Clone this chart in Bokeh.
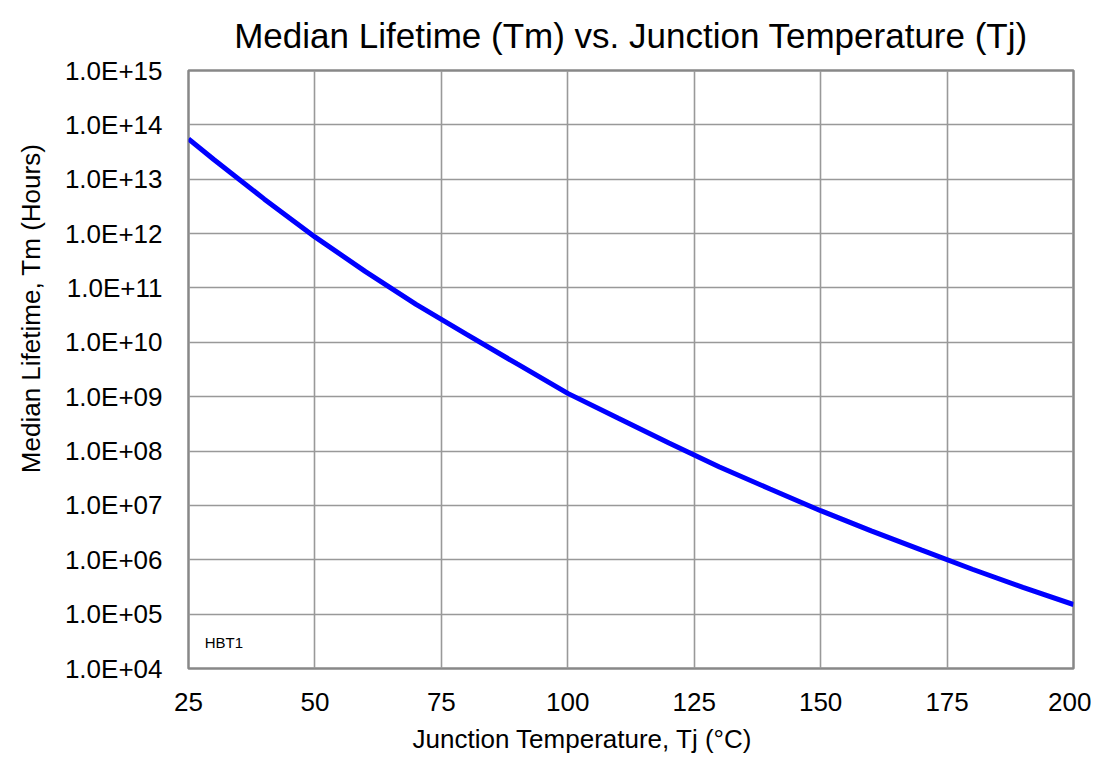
from bokeh.plotting import figure
from bokeh.models import FixedTicker, CustomJSTickFormatter, Title, Label
from bokeh.embed import file_html
from bokeh.resources import INLINE

# Junction temperature (°C) and median lifetime (hours)
tj = [25, 30, 40, 50, 60, 70, 80, 90, 100, 110, 120, 130, 140, 150, 160, 170, 180, 190, 200]
tm = [5.5e13, 2.3e13, 4.3e12, 8.7e11, 2.0e11, 5.0e10, 1.4e10, 4.0e9, 1.15e9, 4.0e8,
      1.4e8, 5.1e7, 2.0e7, 8.0e6, 3.4e6, 1.5e6, 6.7e5, 3.1e5, 1.5e5]

x_ticks = [25, 50, 75, 100, 125, 150, 175, 200]
y_ticks = [1e4, 1e5, 1e6, 1e7, 1e8, 1e9, 1e10, 1e11, 1e12, 1e13, 1e14, 1e15]

title_text = "Median Lifetime (Tm) vs. Junction Temperature (Tj)"
x_label = "Junction Temperature, Tj  (°C)"
y_label = "Median Lifetime, Tm  (Hours)"
series_tag = "HBT1"

FONT = "Liberation Sans"

p = figure(width=1091, height=764, y_axis_type="log",
           x_range=(25, 200), y_range=(1e4, 1e15),
           output_backend="svg", toolbar_location=None,
           min_border_left=188, min_border_right=18,
           min_border_top=70, min_border_bottom=96)

t = Title(text=title_text, align="center", vertical_align="top",
          text_font=FONT, text_font_size="35px", text_font_style="normal",
          text_color="#000000", offset=0, standoff=28)
p.add_layout(t, "above")

p.line(tj, tm, line_color="#0000FF", line_width=5)

p.xaxis.ticker = FixedTicker(ticks=x_ticks)
p.yaxis.ticker = FixedTicker(ticks=y_ticks)
p.yaxis.formatter = CustomJSTickFormatter(code="""
var s = tick.toExponential(1).toUpperCase();
return s.replace(/E\\+(\\d)$/, 'E+0$1');
""")

for ax in (p.xaxis[0], p.yaxis[0]):
    ax.axis_line_color = None
    ax.major_tick_line_color = None
    ax.minor_tick_line_color = None
    ax.major_label_text_font = FONT
    ax.major_label_text_font_size = "26px"
    ax.major_label_text_color = "#000000"

p.xaxis.major_label_standoff = 18
p.yaxis.major_label_standoff = 20

# axis titles, offset from the frame centre as in the original
xt = Title(text=x_label, align="left", offset=224, vertical_align="bottom",
           text_font=FONT, text_font_size="26px", text_font_style="normal",
           text_color="#000000", standoff=17)
p.add_layout(xt, "below")
yt = Title(text=y_label, align="right", offset=66, vertical_align="top",
           text_font=FONT, text_font_size="26px", text_font_style="normal",
           text_color="#000000", standoff=28)
p.add_layout(yt, "left")

p.xgrid.grid_line_color = "#999999"
p.ygrid.grid_line_color = "#999999"
p.xgrid.grid_line_width = 1.6
p.ygrid.grid_line_width = 1.6
p.ygrid.minor_grid_line_color = None

p.outline_line_color = "#888888"
p.outline_line_width = 2.5
p.background_fill_color = "#FFFFFF"
p.border_fill_color = "#FFFFFF"

p.add_layout(Label(x=28.2, y=2.1e4, text=series_tag, text_font=FONT,
                   text_font_size="15px", text_color="#000000"))

open("out.html", "w").write(file_html(p, INLINE))
